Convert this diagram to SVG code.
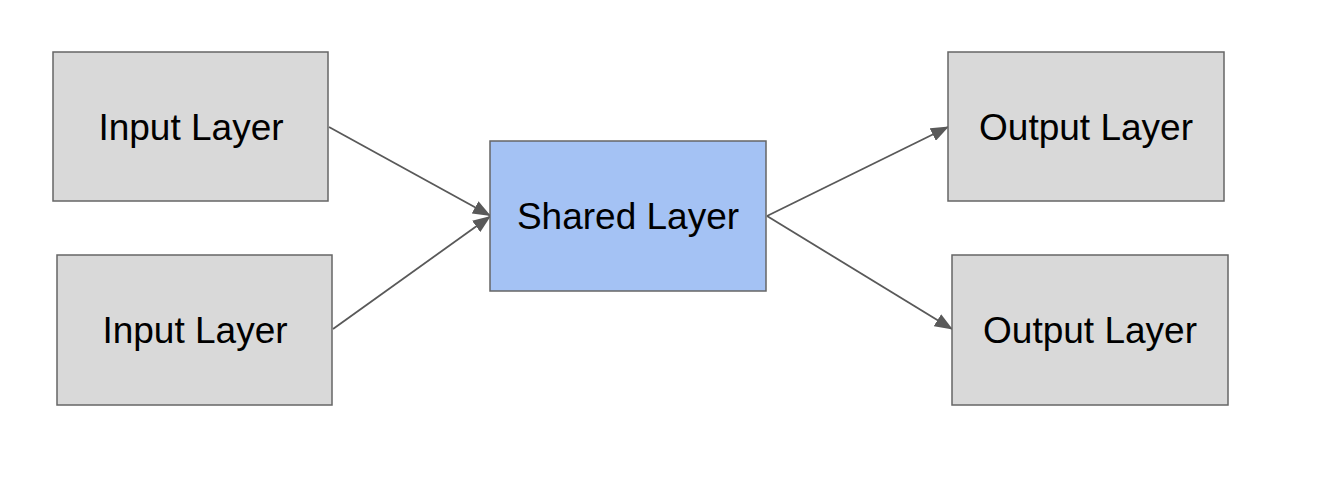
<svg xmlns="http://www.w3.org/2000/svg" width="1334" height="496" viewBox="0 0 1334 496">
<defs>
<style>
.box{stroke:#666666;stroke-width:1.5}
.gray{fill:#d9d9d9}
.blue{fill:#a4c2f4}
.lbl{font-family:"Liberation Sans",Arial,sans-serif;font-size:37px;fill:#000000;text-anchor:middle}
.edge{stroke:#595959;stroke-width:1.8;fill:none;marker-end:url(#ah)}
</style>
<marker id="ah" markerWidth="18" markerHeight="14" refX="17" refY="7" orient="auto" markerUnits="userSpaceOnUse" viewBox="0 0 18 14">
<path d="M0,0 L18,7 L0,14 Z" fill="#595959"/>
</marker>
</defs>
<rect width="1334" height="496" fill="#ffffff"/>
<g id="connectors">
<line class="edge" x1="329" y1="127" x2="490" y2="215.5"/>
<line class="edge" x1="333" y1="329" x2="490" y2="216.5"/>
<line class="edge" x1="767" y1="216" x2="948" y2="127"/>
<line class="edge" x1="767" y1="216" x2="952" y2="329"/>
</g>
<g id="input1">
<rect class="box gray" x="53" y="52" width="275" height="149"/>
<text class="lbl" x="191" y="139.5">Input Layer</text>
</g>
<g id="input2">
<rect class="box gray" x="57" y="255" width="275" height="150"/>
<text class="lbl" x="195" y="342.5">Input Layer</text>
</g>
<g id="shared">
<rect class="box blue" x="490" y="141" width="276" height="150"/>
<text class="lbl" x="628" y="228.5">Shared Layer</text>
</g>
<g id="output1">
<rect class="box gray" x="948" y="52" width="276" height="149"/>
<text class="lbl" x="1086" y="139.5">Output Layer</text>
</g>
<g id="output2">
<rect class="box gray" x="952" y="255" width="276" height="150"/>
<text class="lbl" x="1090" y="342.5">Output Layer</text>
</g>
</svg>
